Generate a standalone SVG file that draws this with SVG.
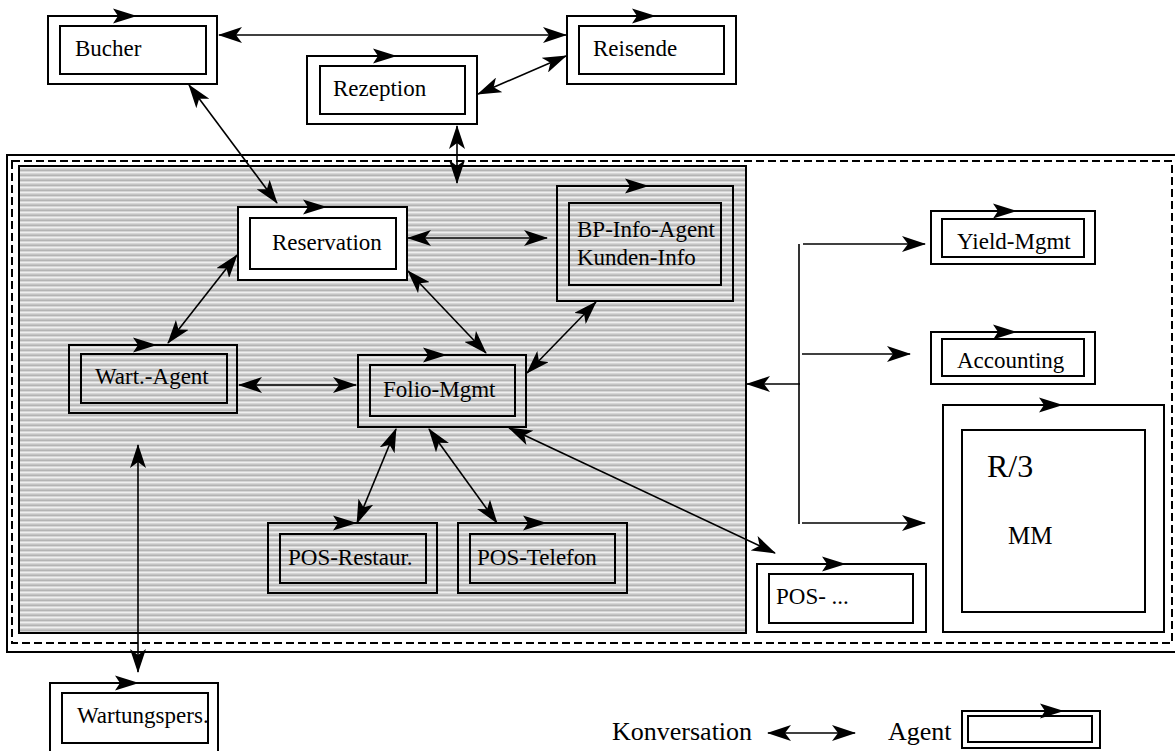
<svg xmlns="http://www.w3.org/2000/svg" width="1175" height="751" viewBox="0 0 1175 751">
<style>
.o{fill:none;stroke:#000;stroke-width:2}
.ow{fill:#fff;stroke:#000;stroke-width:2}
.t{font-family:"Liberation Serif","Times New Roman",serif;font-size:23px;fill:#000}
.lg{font-size:26px}
.c{fill:none;stroke:#000;stroke-width:1.6;marker-start:url(#ah);marker-end:url(#ah)}
.e{fill:none;stroke:#000;stroke-width:1.6;marker-end:url(#ah)}
.p{fill:none;stroke:#000;stroke-width:1.6}
</style>
<defs>
<pattern id="hatch" width="8" height="5" patternUnits="userSpaceOnUse">
<rect width="8" height="5" fill="#d6d6d6"/>
<rect y="0" width="8" height="1" fill="#b4b4b4"/>
<rect y="2" width="8" height="1" fill="#efefef"/>
<rect y="4" width="8" height="1" fill="#c4c4c4"/>
</pattern>
<marker id="ah" viewBox="0 0 24 16" refX="23" refY="8" markerWidth="24" markerHeight="16" markerUnits="userSpaceOnUse" orient="auto-start-reverse">
<path d="M0,0 L24,8 L0,16 L6,8 Z" fill="#000"/>
</marker>
<path id="ag" d="M0,-7.5 L24,0 L0,7.5 L5,0 Z" fill="#000"/>
</defs>
<rect width="1175" height="751" fill="#fff"/>

<g id="frame">
<rect x="7" y="155" width="1180" height="497" fill="none" stroke="#000" stroke-width="2"/>
<rect x="12" y="161" width="1160" height="482" fill="none" stroke="#000" stroke-width="2" stroke-dasharray="8,4"/>
<rect x="19" y="166" width="727" height="467" fill="url(#hatch)" stroke="#000" stroke-width="2"/>
</g>

<g id="connectors">
<line class="c" x1="219" y1="35" x2="566" y2="35"/>
<line class="c" x1="478" y1="94" x2="566" y2="56"/>
<line class="c" x1="457" y1="126" x2="457" y2="183"/>
<line class="c" x1="189" y1="85" x2="277" y2="203"/>
<line class="c" x1="408" y1="238" x2="547" y2="238"/>
<line class="c" x1="237" y1="255" x2="168" y2="343"/>
<line class="c" x1="408" y1="271" x2="486" y2="353"/>
<line class="c" x1="596" y1="302" x2="527" y2="373"/>
<line class="c" x1="239" y1="385" x2="356" y2="385"/>
<line class="c" x1="396" y1="429" x2="357" y2="523"/>
<line class="c" x1="429" y1="429" x2="497" y2="523"/>
<line class="c" x1="509" y1="428" x2="775" y2="553"/>
<line class="c" x1="138" y1="445" x2="138" y2="672"/>
<line class="p" x1="799" y1="244" x2="799" y2="524"/>
<line class="e" x1="803" y1="244" x2="925" y2="244"/>
<line class="e" x1="802" y1="354" x2="910" y2="354"/>
<line class="e" x1="800" y1="384" x2="747" y2="384"/>
<line class="e" x1="802" y1="523" x2="925" y2="523"/>
</g>

<g id="bucher">
<rect class="o" x="48" y="16" width="169" height="68"/>
<rect class="o" x="60" y="26" width="146" height="48"/>
<use href="#ag" x="113" y="16"/>
<text class="t" x="75" y="56">Bucher</text>
</g>
<g id="reisende">
<rect class="o" x="567" y="16" width="169" height="68"/>
<rect class="o" x="579" y="26" width="145" height="48"/>
<use href="#ag" x="632" y="16"/>
<text class="t" x="593" y="56">Reisende</text>
</g>
<g id="rezeption">
<rect class="o" x="307" y="56" width="170" height="68"/>
<rect class="o" x="320" y="66" width="145" height="48"/>
<use href="#ag" x="373" y="56"/>
<text class="t" x="333" y="96">Rezeption</text>
</g>
<g id="reservation">
<rect class="ow" x="238" y="207" width="169" height="73"/>
<rect class="o" x="250" y="218" width="146" height="51"/>
<use href="#ag" x="303" y="207"/>
<text class="t" x="272" y="250">Reservation</text>
</g>
<g id="bp-info">
<rect class="o" x="557" y="186" width="176" height="115"/>
<rect class="o" x="569" y="203" width="152" height="82"/>
<use href="#ag" x="625" y="186"/>
<text class="t" x="577" y="237">BP-Info-Agent</text>
<text class="t" x="577" y="265">Kunden-Info</text>
</g>
<g id="folio">
<rect class="o" x="358" y="355" width="168" height="72"/>
<rect class="o" x="370" y="365" width="145" height="51"/>
<use href="#ag" x="423" y="355"/>
<text class="t" x="383" y="397">Folio-Mgmt</text>
</g>
<g id="wart-agent">
<rect class="o" x="69" y="345" width="168" height="68"/>
<rect class="o" x="81" y="354" width="146" height="49"/>
<use href="#ag" x="133" y="345"/>
<text class="t" x="95" y="384">Wart.-Agent</text>
</g>
<g id="pos-restaur">
<rect class="o" x="268" y="523" width="169" height="70"/>
<rect class="o" x="280" y="534" width="146" height="49"/>
<use href="#ag" x="333" y="523"/>
<text class="t" x="288" y="565">POS-Restaur.</text>
</g>
<g id="pos-telefon">
<rect class="o" x="458" y="523" width="169" height="70"/>
<rect class="o" x="470" y="534" width="145" height="49"/>
<use href="#ag" x="523" y="523"/>
<text class="t" x="477" y="565">POS-Telefon</text>
</g>
<g id="pos-other">
<rect class="o" x="757" y="564" width="169" height="68"/>
<rect class="o" x="769" y="574" width="144" height="49"/>
<use href="#ag" x="822" y="564"/>
<text class="t" x="776" y="604">POS- ...</text>
</g>
<g id="yield">
<rect class="o" x="931" y="211" width="164" height="53"/>
<rect class="o" x="942" y="219" width="142" height="38"/>
<use href="#ag" x="993" y="211"/>
<text class="t" x="957" y="249">Yield-Mgmt</text>
</g>
<g id="accounting">
<rect class="o" x="931" y="332" width="164" height="52"/>
<rect class="o" x="942" y="339" width="142" height="37"/>
<use href="#ag" x="993" y="332"/>
<text class="t" x="957" y="368">Accounting</text>
</g>
<g id="r3">
<rect class="o" x="943" y="405" width="221" height="227"/>
<rect class="o" x="962" y="430" width="183" height="182"/>
<line class="p" x1="1027" y1="405" x2="1045" y2="405" stroke-width="2.5"/>
<use href="#ag" x="1039" y="405"/>
<text class="t" x="987" y="477" style="font-size:32px">R/3</text>
<text class="t" x="1008" y="544" style="font-size:25px">MM</text>
</g>
<g id="wartungspers">
<rect class="o" x="50" y="683" width="168" height="80"/>
<rect class="o" x="62" y="693" width="146" height="50"/>
<use href="#ag" x="115" y="683"/>
<text class="t" x="77" y="723">Wartungspers.</text>
</g>

<g id="legend">
<text class="t lg" x="612" y="740">Konversation</text>
<line class="c" x1="768" y1="733" x2="855" y2="733"/>
<text class="t lg" x="888" y="740">Agent</text>
<rect class="o" x="962" y="711" width="138" height="37"/>
<rect class="o" x="968" y="716" width="124" height="26"/>
<use href="#ag" x="1040" y="711"/>
</g>
</svg>
